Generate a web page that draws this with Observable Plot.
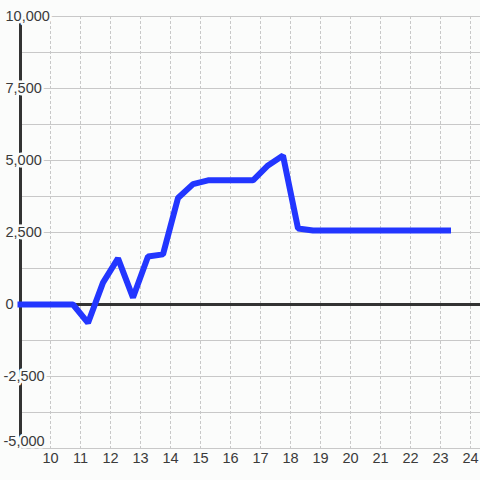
<!DOCTYPE html>
<html>
<head>
<meta charset="utf-8">
<script src="https://cdn.jsdelivr.net/npm/d3@7"></script>
<script src="https://cdn.jsdelivr.net/npm/@observablehq/plot@0.6"></script>
<style>
  html, body { margin: 0; padding: 0; background: #fbfcfb; }
  #chart svg { display: block; }
</style>
</head>
<body>
<div id="chart"></div>
<script>
const hours = [9, 9.25, 9.75, 10.25, 10.75, 11.25, 11.75, 12.25, 12.75, 13.25, 13.75, 14.25, 14.75, 15.25, 15.75, 16.25, 16.75, 17.25, 17.75, 18.25, 18.75, 19.25, 19.75, 20.25, 20.75, 21.25, 21.75, 22.25, 22.75, 23.25];
const values = [0, 0, 0, 0, 0, -640, 760, 1600, 240, 1670, 1740, 3700, 4180, 4310, 4310, 4310, 4310, 4830, 5170, 2640, 2570, 2570, 2570, 2570, 2570, 2570, 2570, 2570, 2570, 2570];
const yTicksPos = [10000, 7500, 5000, 2500, 0];
const yTicksNeg = [-2500];
const yBottomTick = [-5000];
const xTicks = [10, 11, 12, 13, 14, 15, 16, 17, 18, 19, 20, 21, 22, 23, 24];
const yGrid = [10000, 8750, 7500, 6250, 5000, 3750, 2500, 1250, 0, -1250, -2500, -3750, -5000];

const data = hours.map((h, i) => ({h, v: values[i]}));
const fmt = d => d3.format(",")(d).replace("\u2212", "-");
const bg = "#fbfcfb";
const font = "Liberation Sans, Arial, sans-serif";
const labelStyle = {frameAnchor: "left", textAnchor: "start", fill: "#3a3a3a", stroke: bg, strokeWidth: 5, fontSize: 14.5};

const chart = Plot.plot({
  width: 480,
  height: 480,
  marginTop: 16,
  marginBottom: 32,
  marginLeft: 20,
  marginRight: 0,
  style: {background: bg, fontFamily: font},
  x: {domain: [9, 24.3333], axis: null},
  y: {domain: [-5000, 10000], axis: null},
  marks: [
    Plot.ruleY(yGrid, {stroke: "#c8c8c8", strokeWidth: 1}),
    Plot.ruleX(xTicks, {stroke: "#c8c8c8", strokeWidth: 1, strokeDasharray: "3,2"}),
    Plot.ruleY([0], {stroke: "#333", strokeWidth: 3}),
    Plot.ruleX([9], {stroke: "#333", strokeWidth: 3}),
    Plot.line(data, {x: "h", y: "v", stroke: "#2236ff", strokeWidth: 6, strokeLinecap: "square", strokeLinejoin: "miter"}),
    Plot.text(yTicksPos, {y: d => d, text: fmt, dx: -15, ...labelStyle}),
    Plot.text(yTicksNeg, {y: d => d, text: fmt, dx: -17, ...labelStyle}),
    Plot.text(yBottomTick, {y: d => d, text: fmt, dx: -17, dy: -7, ...labelStyle}),
    Plot.text(xTicks, {x: d => d, text: d => String(d), frameAnchor: "bottom", dy: 14, textAnchor: "middle", fill: "#3a3a3a", fontSize: 14.5})
  ]
});
document.getElementById("chart").appendChild(chart);
</script>
</body>
</html>
